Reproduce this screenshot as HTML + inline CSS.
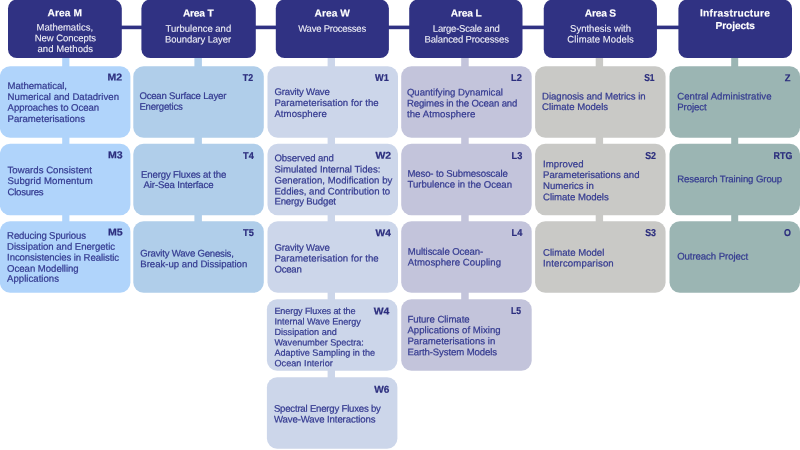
<!DOCTYPE html>
<html lang="en"><head><meta charset="utf-8"><title>Project Areas</title>
<style>
html,body{margin:0;padding:0;background:#fff}
body{width:800px;height:450px;overflow:hidden}
svg{display:block;font-family:"Liberation Sans",Arial,sans-serif;will-change:transform}
svg text{stroke-width:0.22px;stroke-linejoin:round;text-rendering:geometricPrecision}
.t{font-size:9.6px;fill:#343a90;stroke:#343a90}
.lb{font-size:10.0px;font-weight:bold;fill:#2c2e7e;stroke:#2c2e7e;text-anchor:end}
.hb{font-size:10.2px;font-weight:bold;fill:#fff;stroke:#fff;stroke-width:0.15px;text-anchor:middle}
.hr{font-size:9.5px;fill:#f1f1f8;stroke:#f1f1f8;stroke-width:0.08px;text-anchor:middle}
</style></head><body>
<svg width="800" height="450" viewBox="0 0 800 450">
<rect x="100" y="25.6" width="600" height="3.6" fill="#303283"/>
<g id="col-M">
<rect x="62.2" y="56.1" width="7.2" height="168.2" fill="#b0d4fb"/>
<rect x="8.0" y="-0.4" width="113.8" height="58.5" rx="8.8" fill="#303283"/>
<text class="hb" x="64.74" y="16.20" transform="rotate(0.03 64.74 16.20)" letter-spacing="0.083">Area M</text>
<text class="hr" x="64.80" y="30.60" transform="rotate(0.03 64.80 30.60)" letter-spacing="0.000">Mathematics,</text>
<text class="hr" x="65.38" y="41.30" transform="rotate(0.03 65.38 41.30)" letter-spacing="-0.048">New Concepts</text>
<text class="hr" x="65.33" y="52.00" transform="rotate(0.03 65.33 52.00)" letter-spacing="0.066">and Methods</text>
<rect x="-0.10" y="66.3" width="130.5" height="71.5" rx="10.3" fill="#b0d4fb"/>
<text class="lb" transform="translate(122.00 80.60) rotate(0.03) scale(1.050 1)">M2</text>
<text class="t" x="7.60" y="89.00" transform="rotate(0.03 7.60 89.00)" letter-spacing="-0.027">Mathematical,</text>
<text class="t" x="7.60" y="100.00" transform="rotate(0.03 7.60 100.00)" letter-spacing="0.021">Numerical and Datadriven</text>
<text class="t" x="7.60" y="110.80" transform="rotate(0.03 7.60 110.80)" letter-spacing="-0.078">Approaches to Ocean</text>
<text class="t" x="7.60" y="122.00" transform="rotate(0.03 7.60 122.00)" letter-spacing="0.004">Parameterisations</text>
<rect x="-0.10" y="143.7" width="130.5" height="71.5" rx="10.3" fill="#b0d4fb"/>
<text class="lb" transform="translate(122.60 158.30) rotate(0.03) scale(1.057 1)">M3</text>
<text class="t" x="7.50" y="173.20" transform="rotate(0.03 7.50 173.20)" letter-spacing="0.034">Towards Consistent</text>
<text class="t" x="7.50" y="184.00" transform="rotate(0.03 7.50 184.00)" letter-spacing="0.099">Subgrid Momentum</text>
<text class="t" x="7.50" y="195.20" transform="rotate(0.03 7.50 195.20)" letter-spacing="-0.250">Closures</text>
<rect x="-0.10" y="221.3" width="130.5" height="71.5" rx="10.3" fill="#b0d4fb"/>
<text class="lb" transform="translate(122.60 235.60) rotate(0.03) scale(1.057 1)">M5</text>
<text class="t" x="7.10" y="238.70" transform="rotate(0.03 7.10 238.70)" letter-spacing="-0.130">Reducing Spurious</text>
<text class="t" x="7.10" y="249.80" transform="rotate(0.03 7.10 249.80)" letter-spacing="-0.033">Dissipation and Energetic</text>
<text class="t" x="7.10" y="260.60" transform="rotate(0.03 7.10 260.60)" letter-spacing="-0.098">Inconsistencies in Realistic</text>
<text class="t" x="7.10" y="271.80" transform="rotate(0.03 7.10 271.80)" letter-spacing="-0.029">Ocean Modelling</text>
<text class="t" x="7.10" y="281.80" transform="rotate(0.03 7.10 281.80)" letter-spacing="0.015">Applications</text>
</g>
<g id="col-T">
<rect x="194.4" y="56.1" width="7.5" height="168.2" fill="#b0ceea"/>
<rect x="141.4" y="-0.4" width="114.4" height="58.5" rx="8.8" fill="#303283"/>
<text class="hb" x="198.20" y="16.60" transform="rotate(0.03 198.20 16.60)" letter-spacing="-0.200">Area T</text>
<text class="hr" x="198.40" y="31.85" transform="rotate(0.03 198.40 31.85)" letter-spacing="-0.006">Turbulence and</text>
<text class="hr" x="198.06" y="42.50" transform="rotate(0.03 198.06 42.50)" letter-spacing="-0.083">Boundary Layer</text>
<rect x="133.30" y="66.3" width="130.5" height="71.5" rx="10.3" fill="#b0ceea"/>
<text class="lb" transform="translate(253.10 81.30) rotate(0.03) scale(0.882 1)">T2</text>
<text class="t" x="139.40" y="99.00" transform="rotate(0.03 139.40 99.00)" letter-spacing="-0.204">Ocean Surface Layer</text>
<text class="t" x="139.40" y="109.70" transform="rotate(0.03 139.40 109.70)" letter-spacing="-0.203">Energetics</text>
<rect x="133.30" y="143.7" width="130.5" height="71.5" rx="10.3" fill="#b0ceea"/>
<text class="lb" transform="translate(253.80 158.70) rotate(0.03) scale(0.917 1)">T4</text>
<text class="t" x="141.00" y="177.70" transform="rotate(0.03 141.00 177.70)" letter-spacing="-0.142">Energy Fluxes at the</text>
<text class="t" x="141.00" y="187.90" transform="rotate(0.03 141.00 187.90)" letter-spacing="-0.127"> Air-Sea Interface</text>
<rect x="133.30" y="221.3" width="130.5" height="71.5" rx="10.3" fill="#b0ceea"/>
<text class="lb" transform="translate(253.80 236.20) rotate(0.03) scale(0.917 1)">T5</text>
<text class="t" x="140.30" y="256.60" transform="rotate(0.03 140.30 256.60)" letter-spacing="-0.208">Gravity Wave Genesis,</text>
<text class="t" x="140.30" y="267.30" transform="rotate(0.03 140.30 267.30)" letter-spacing="-0.009">Break-up and Dissipation</text>
</g>
<g id="col-W">
<rect x="327.6" y="56.1" width="7.4" height="324.1" fill="#ccd6ea"/>
<rect x="275.8" y="-0.4" width="113.1" height="58.5" rx="8.8" fill="#303283"/>
<text class="hb" x="332.23" y="16.60" transform="rotate(0.03 332.23 16.60)" letter-spacing="0.058">Area W</text>
<text class="hr" x="332.08" y="31.85" transform="rotate(0.03 332.08 31.85)" letter-spacing="-0.232">Wave Processes</text>
<rect x="267.50" y="66.3" width="130.5" height="71.5" rx="10.3" fill="#ccd6ea"/>
<text class="lb" transform="translate(388.80 81.30) rotate(0.03) scale(0.913 1)">W1</text>
<text class="t" x="274.40" y="95.00" transform="rotate(0.03 274.40 95.00)" letter-spacing="-0.165">Gravity Wave</text>
<text class="t" x="274.40" y="106.00" transform="rotate(0.03 274.40 106.00)" letter-spacing="0.083">Parameterisation for the</text>
<text class="t" x="274.40" y="117.00" transform="rotate(0.03 274.40 117.00)" letter-spacing="0.074">Atmosphere</text>
<rect x="267.50" y="143.7" width="130.5" height="71.5" rx="10.3" fill="#ccd6ea"/>
<text class="lb" transform="translate(391.10 158.70) rotate(0.03) scale(1.040 1)">W2</text>
<text class="t" x="274.40" y="161.30" transform="rotate(0.03 274.40 161.30)" letter-spacing="-0.070">Observed and</text>
<text class="t" x="274.40" y="172.50" transform="rotate(0.03 274.40 172.50)" letter-spacing="0.017">Simulated Internal Tides:</text>
<text class="t" x="274.40" y="183.50" transform="rotate(0.03 274.40 183.50)" letter-spacing="0.046">Generation, Modification by</text>
<text class="t" x="274.40" y="194.40" transform="rotate(0.03 274.40 194.40)" letter-spacing="0.003">Eddies, and Contribution to</text>
<text class="t" x="274.40" y="204.60" transform="rotate(0.03 274.40 204.60)" letter-spacing="-0.157">Energy Budget</text>
<rect x="267.50" y="221.3" width="130.5" height="71.5" rx="10.3" fill="#ccd6ea"/>
<text class="lb" transform="translate(390.80 236.20) rotate(0.03) scale(1.020 1)">W4</text>
<text class="t" x="274.40" y="250.70" transform="rotate(0.03 274.40 250.70)" letter-spacing="-0.165">Gravity Wave</text>
<text class="t" x="274.40" y="261.40" transform="rotate(0.03 274.40 261.40)" letter-spacing="0.083">Parameterisation for the</text>
<text class="t" x="274.40" y="272.40" transform="rotate(0.03 274.40 272.40)" letter-spacing="-0.220">Ocean</text>
<rect x="266.90" y="299.3" width="130.5" height="71.5" rx="10.3" fill="#ccd6ea"/>
<text class="lb" transform="translate(389.30 314.50) rotate(0.03) scale(1.040 1)">W4</text>
<text class="t" style="font-size:9.1px" x="274.40" y="314.00" transform="rotate(0.03 274.40 314.00)" letter-spacing="-0.116">Energy Fluxes at the</text>
<text class="t" style="font-size:9.1px" x="274.40" y="324.60" transform="rotate(0.03 274.40 324.60)" letter-spacing="-0.032">Internal Wave Energy</text>
<text class="t" style="font-size:9.1px" x="274.40" y="334.90" transform="rotate(0.03 274.40 334.90)" letter-spacing="0.022">Dissipation and</text>
<text class="t" style="font-size:9.1px" x="274.40" y="345.40" transform="rotate(0.03 274.40 345.40)" letter-spacing="-0.036">Wavenumber Spectra:</text>
<text class="t" style="font-size:9.1px" x="274.40" y="355.80" transform="rotate(0.03 274.40 355.80)" letter-spacing="0.004">Adaptive Sampling in the</text>
<text class="t" style="font-size:9.1px" x="274.40" y="366.30" transform="rotate(0.03 274.40 366.30)" letter-spacing="0.060">Ocean Interior</text>
<rect x="266.90" y="377.2" width="130.5" height="71.5" rx="10.3" fill="#ccd6ea"/>
<text class="lb" transform="translate(389.30 392.70) rotate(0.03) scale(1.007 1)">W6</text>
<text class="t" x="273.90" y="411.70" transform="rotate(0.03 273.90 411.70)" letter-spacing="-0.208">Spectral Energy Fluxes by</text>
<text class="t" x="273.90" y="422.40" transform="rotate(0.03 273.90 422.40)" letter-spacing="-0.105">Wave-Wave Interactions</text>
</g>
<g id="col-L">
<rect x="461.2" y="56.1" width="7.5" height="246.2" fill="#c3c4db"/>
<rect x="409.2" y="-0.4" width="113.3" height="58.5" rx="8.8" fill="#303283"/>
<text class="hb" x="466.13" y="16.60" transform="rotate(0.03 466.13 16.60)" letter-spacing="-0.144">Area L</text>
<text class="hr" x="466.20" y="31.85" transform="rotate(0.03 466.20 31.85)" letter-spacing="-0.201">Large-Scale and</text>
<text class="hr" x="466.64" y="42.50" transform="rotate(0.03 466.64 42.50)" letter-spacing="-0.130">Balanced Processes</text>
<rect x="401.20" y="66.3" width="130.5" height="71.5" rx="10.3" fill="#c3c4db"/>
<text class="lb" transform="translate(521.80 81.30) rotate(0.03) scale(0.917 1)">L2</text>
<text class="t" x="406.90" y="95.50" transform="rotate(0.03 406.90 95.50)" letter-spacing="0.001">Quantifying Dynamical</text>
<text class="t" x="406.90" y="106.50" transform="rotate(0.03 406.90 106.50)" letter-spacing="-0.135">Regimes in the Ocean and</text>
<text class="t" x="406.90" y="117.20" transform="rotate(0.03 406.90 117.20)" letter-spacing="0.092">the Atmosphere</text>
<rect x="401.20" y="143.7" width="130.5" height="71.5" rx="10.3" fill="#c3c4db"/>
<text class="lb" transform="translate(522.30 158.70) rotate(0.03) scale(0.917 1)">L3</text>
<text class="t" x="407.40" y="176.80" transform="rotate(0.03 407.40 176.80)" letter-spacing="-0.126">Meso- to Submesoscale</text>
<text class="t" x="407.40" y="187.60" transform="rotate(0.03 407.40 187.60)" letter-spacing="-0.005">Turbulence in the Ocean</text>
<rect x="401.20" y="221.3" width="130.5" height="71.5" rx="10.3" fill="#c3c4db"/>
<text class="lb" transform="translate(522.30 236.20) rotate(0.03) scale(0.917 1)">L4</text>
<text class="t" x="407.80" y="254.80" transform="rotate(0.03 407.80 254.80)" letter-spacing="-0.080">Multiscale Ocean-</text>
<text class="t" x="407.80" y="265.50" transform="rotate(0.03 407.80 265.50)" letter-spacing="0.052">Atmosphere Coupling</text>
<rect x="401.20" y="299.3" width="130.5" height="71.5" rx="10.3" fill="#c3c4db"/>
<text class="lb" transform="translate(521.10 314.50) rotate(0.03) scale(0.857 1)">L5</text>
<text class="t" x="407.40" y="322.50" transform="rotate(0.03 407.40 322.50)" letter-spacing="-0.056">Future Climate</text>
<text class="t" x="407.40" y="333.30" transform="rotate(0.03 407.40 333.30)" letter-spacing="0.024">Applications of Mixing</text>
<text class="t" x="407.40" y="344.20" transform="rotate(0.03 407.40 344.20)" letter-spacing="0.024">Parameterisations in</text>
<text class="t" x="407.40" y="355.20" transform="rotate(0.03 407.40 355.20)" letter-spacing="-0.117">Earth-System Models</text>
</g>
<g id="col-S">
<rect x="595.7" y="56.1" width="7.4" height="168.2" fill="#c9c9c6"/>
<rect x="543.75" y="-0.4" width="113.2" height="58.5" rx="8.8" fill="#303283"/>
<text class="hb" x="600.30" y="16.60" transform="rotate(0.03 600.30 16.60)" letter-spacing="-0.200">Area S</text>
<text class="hr" x="600.51" y="31.85" transform="rotate(0.03 600.51 31.85)" letter-spacing="0.013">Synthesis with</text>
<text class="hr" x="600.64" y="42.50" transform="rotate(0.03 600.64 42.50)" letter-spacing="0.079">Climate Models</text>
<rect x="535.10" y="66.3" width="130.5" height="71.5" rx="10.3" fill="#c9c9c6"/>
<text class="lb" transform="translate(654.60 81.00) rotate(0.03) scale(0.850 1)">S1</text>
<text class="t" x="542.10" y="99.40" transform="rotate(0.03 542.10 99.40)" letter-spacing="-0.040">Diagnosis and Metrics in</text>
<text class="t" x="542.10" y="109.90" transform="rotate(0.03 542.10 109.90)" letter-spacing="-0.010">Climate Models</text>
<rect x="535.10" y="143.7" width="130.5" height="71.5" rx="10.3" fill="#c9c9c6"/>
<text class="lb" transform="translate(656.00 158.70) rotate(0.03) scale(0.883 1)">S2</text>
<text class="t" x="543.00" y="167.20" transform="rotate(0.03 543.00 167.20)" letter-spacing="0.071">Improved</text>
<text class="t" x="543.00" y="177.90" transform="rotate(0.03 543.00 177.90)" letter-spacing="0.025">Parameterisations and</text>
<text class="t" x="543.00" y="188.90" transform="rotate(0.03 543.00 188.90)" letter-spacing="0.014">Numerics in</text>
<text class="t" x="543.00" y="200.20" transform="rotate(0.03 543.00 200.20)" letter-spacing="-0.033">Climate Models</text>
<rect x="535.10" y="221.3" width="130.5" height="71.5" rx="10.3" fill="#c9c9c6"/>
<text class="lb" transform="translate(656.00 236.20) rotate(0.03) scale(0.883 1)">S3</text>
<text class="t" x="543.00" y="255.70" transform="rotate(0.03 543.00 255.70)" letter-spacing="-0.002">Climate Model</text>
<text class="t" x="543.00" y="266.40" transform="rotate(0.03 543.00 266.40)" letter-spacing="0.136">Intercomparison</text>
</g>
<g id="col-I">
<rect x="731.2" y="56.1" width="7.0" height="168.2" fill="#9bb5b3"/>
<rect x="678.4" y="-0.4" width="113.6" height="58.5" rx="8.8" fill="#303283"/>
<text class="hb" x="735.14" y="16.40" transform="rotate(0.03 735.14 16.40)" letter-spacing="0.290">Infrastructure</text>
<text class="hb" x="735.24" y="29.00" transform="rotate(0.03 735.24 29.00)" letter-spacing="-0.115">Projects</text>
<rect x="669.50" y="66.3" width="130.5" height="71.5" rx="10.3" fill="#9bb5b3"/>
<text class="lb" transform="translate(790.50 81.30) rotate(0.03) scale(0.933 1)">Z</text>
<text class="t" x="677.20" y="99.40" transform="rotate(0.03 677.20 99.40)" letter-spacing="0.047">Central Administrative</text>
<text class="t" x="677.20" y="110.30" transform="rotate(0.03 677.20 110.30)" letter-spacing="-0.060">Project</text>
<rect x="669.50" y="143.7" width="130.5" height="71.5" rx="10.3" fill="#9bb5b3"/>
<text class="lb" transform="translate(792.30 158.70) rotate(0.03) scale(0.886 1)">RTG</text>
<text class="t" x="677.20" y="182.30" transform="rotate(0.03 677.20 182.30)" letter-spacing="-0.099">Research Training Group</text>
<rect x="669.50" y="221.3" width="130.5" height="71.5" rx="10.3" fill="#9bb5b3"/>
<text class="lb" transform="translate(790.90 236.20) rotate(0.03) scale(0.887 1)">O</text>
<text class="t" x="677.20" y="259.60" transform="rotate(0.03 677.20 259.60)" letter-spacing="-0.067">Outreach Project</text>
</g>
</svg>
</body></html>
